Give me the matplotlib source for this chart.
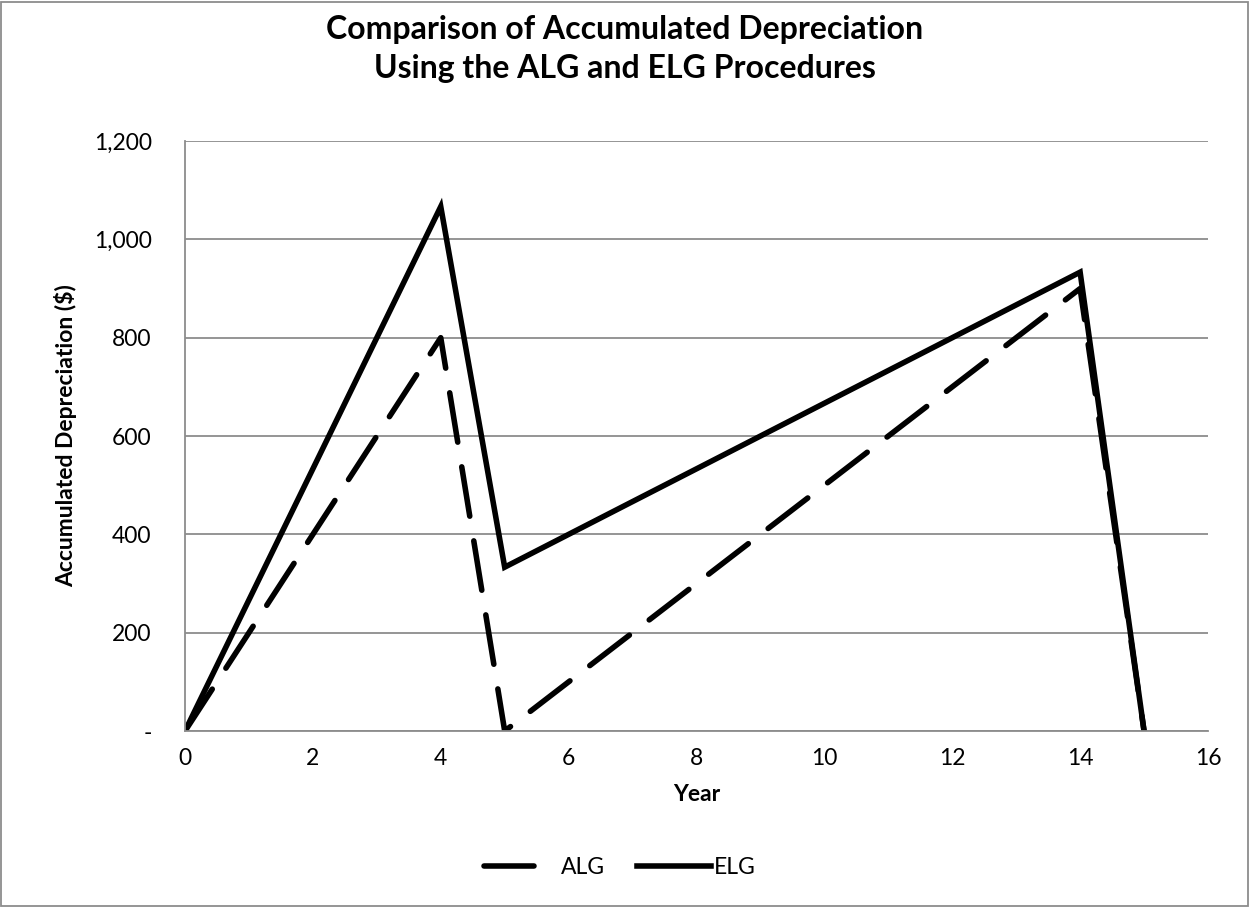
import matplotlib.pyplot as plt
from matplotlib.ticker import FuncFormatter, MultipleLocator
from matplotlib.patches import Rectangle

years = list(range(16))
alg = [0, 200, 400, 600, 800, 0, 100, 200, 300, 400, 500, 600, 700, 800, 900, 0]
elg = [0, 266.7, 533.3, 800, 1066.7, 333.3, 400, 466.7, 533.3, 600,
       666.7, 733.3, 800, 866.7, 933.3, 0]

plt.rcParams['font.family'] = ['Lato', 'DejaVu Sans']

fig = plt.figure(figsize=(12.5, 9.07), dpi=100)
ax = fig.add_axes([0.148, 0.194, 0.8184, 0.6505])

ax.plot(years, alg, color='black', lw=4, linestyle=(0, (9, 4.5)),
        dash_capstyle='round', label='ALG')
ax.plot(years, elg, color='black', lw=4, solid_joinstyle='miter', label='ELG')

ax.set_xlim(0, 16)
ax.set_ylim(0, 1200)
ax.xaxis.set_major_locator(MultipleLocator(2))
ax.yaxis.set_major_locator(MultipleLocator(200))
ax.yaxis.set_major_formatter(FuncFormatter(lambda v, p: '-' if v == 0 else f'{v:,.0f}'))
ax.grid(axis='y', color='#8c8c8c', lw=1.3)
ax.set_axisbelow(True)
for s in ['top', 'right']:
    ax.spines[s].set_visible(False)
for s in ['left', 'bottom']:
    ax.spines[s].set_color('#8c8c8c')
    ax.spines[s].set_linewidth(1.3)
ax.tick_params(length=0, labelsize=16.5)
ax.tick_params(axis='y', pad=24)
ax.tick_params(axis='x', pad=12)

ax.set_xlabel('Year', fontsize=16.5, fontweight='bold', labelpad=11)
ax.set_ylabel('Accumulated Depreciation ($)', fontsize=16.5, fontweight='bold', labelpad=12)

fig.text(0.5, 0.946, 'Comparison of Accumulated Depreciation\nUsing the ALG and ELG Procedures',
         ha='center', va='center', fontsize=23, fontweight='bold', linespacing=1.4)

leg = fig.legend(loc='center', bbox_to_anchor=(0.496, 0.044), ncol=2, frameon=False,
                 fontsize=16.5, handlelength=3.2, handletextpad=0.15, columnspacing=1.4)

fig.patches.append(Rectangle((0.001, 0.001), 0.997, 0.997, transform=fig.transFigure,
                             fill=False, edgecolor='#8c8c8c', lw=1.3))

fig.savefig('out.png', dpi=100)
